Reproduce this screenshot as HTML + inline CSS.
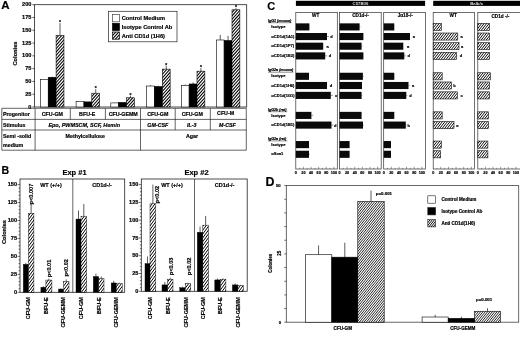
<!DOCTYPE html>
<html lang="en"><head><meta charset="utf-8"><title>Figure</title>
<style>
html,body{margin:0;padding:0;background:#fff}
body{width:520px;height:339px;overflow:hidden}
svg{display:block;font-family:"Liberation Sans",Arial,sans-serif;font-weight:bold}
text{stroke:#000;stroke-width:.18px}
text.w{stroke:none}
</style></head><body>
<svg width="520" height="339" viewBox="0 0 520 339">
<rect width="520" height="339" fill="#fff"/>
<text x="1.2" y="8.6" font-size="10.4" textLength="8.3" lengthAdjust="spacingAndGlyphs">A</text>
<rect x="34.4" y="4.7" width="212.3" height="102.3" fill="none" stroke="#222" stroke-width="0.8"/>
<line x1="32.4" y1="107" x2="34.4" y2="107" stroke="#111" stroke-width="0.7"/>
<text x="31.4" y="108.6" font-size="5.6" text-anchor="end">0</text>
<line x1="32.4" y1="94.21" x2="34.4" y2="94.21" stroke="#111" stroke-width="0.7"/>
<text x="31.4" y="95.81" font-size="5.6" text-anchor="end">25</text>
<line x1="32.4" y1="81.42" x2="34.4" y2="81.42" stroke="#111" stroke-width="0.7"/>
<text x="31.4" y="83.02" font-size="5.6" text-anchor="end">50</text>
<line x1="32.4" y1="68.64" x2="34.4" y2="68.64" stroke="#111" stroke-width="0.7"/>
<text x="31.4" y="70.24" font-size="5.6" text-anchor="end">75</text>
<line x1="32.4" y1="55.85" x2="34.4" y2="55.85" stroke="#111" stroke-width="0.7"/>
<text x="31.4" y="57.45" font-size="5.6" text-anchor="end">100</text>
<line x1="32.4" y1="43.06" x2="34.4" y2="43.06" stroke="#111" stroke-width="0.7"/>
<text x="31.4" y="44.66" font-size="5.6" text-anchor="end">125</text>
<line x1="32.4" y1="30.28" x2="34.4" y2="30.28" stroke="#111" stroke-width="0.7"/>
<text x="31.4" y="31.88" font-size="5.6" text-anchor="end">150</text>
<line x1="32.4" y1="17.49" x2="34.4" y2="17.49" stroke="#111" stroke-width="0.7"/>
<text x="31.4" y="19.09" font-size="5.6" text-anchor="end">175</text>
<line x1="32.4" y1="4.7" x2="34.4" y2="4.7" stroke="#111" stroke-width="0.7"/>
<text x="31.4" y="6.3" font-size="5.6" text-anchor="end">200</text>
<text x="17" y="53.5" font-size="5.7" text-anchor="middle" transform="rotate(-90 17 53.5)">Colonies</text>
<rect x="40.4" y="79.38" width="7.85" height="27.62" fill="#fff" stroke="#000" stroke-width="0.6"/>
<line x1="52.17" y1="77.33" x2="52.17" y2="76.57" stroke="#333" stroke-width="0.8"/>
<rect x="48.25" y="77.33" width="7.85" height="29.67" fill="#000" stroke="#000" stroke-width="0.6"/>
<line x1="60.02" y1="35.39" x2="60.02" y2="23.11" stroke="#333" stroke-width="0.8"/>
<svg x="56.1" y="35.39" width="7.85" height="71.61"><rect width="100%" height="100%" fill="#fff"/><path d="M-64.39,72.61L0.56,-1M-61.39,72.61L3.56,-1M-58.39,72.61L6.56,-1M-55.39,72.61L9.56,-1M-52.39,72.61L12.56,-1M-49.39,72.61L15.56,-1M-46.39,72.61L18.56,-1M-43.39,72.61L21.56,-1M-40.39,72.61L24.56,-1M-37.39,72.61L27.56,-1M-34.39,72.61L30.56,-1M-31.39,72.61L33.56,-1M-28.39,72.61L36.56,-1M-25.39,72.61L39.56,-1M-22.39,72.61L42.56,-1M-19.39,72.61L45.56,-1M-16.39,72.61L48.56,-1M-13.39,72.61L51.56,-1M-10.39,72.61L54.56,-1M-7.39,72.61L57.56,-1M-4.39,72.61L60.56,-1M-1.39,72.61L63.56,-1M1.61,72.61L66.56,-1M4.61,72.61L69.56,-1M7.61,72.61L72.56,-1" stroke="#000" stroke-width="1.05" fill="none"/></svg>
<rect x="56.1" y="35.39" width="7.85" height="71.61" fill="none" stroke="#000" stroke-width="0.6"/>
<text x="60.02" y="24.11" font-size="5" text-anchor="middle">*</text>
<rect x="76.1" y="101.37" width="7.85" height="5.63" fill="#fff" stroke="#000" stroke-width="0.6"/>
<rect x="83.95" y="101.89" width="7.85" height="5.11" fill="#000" stroke="#000" stroke-width="0.6"/>
<line x1="95.72" y1="93.19" x2="95.72" y2="89.1" stroke="#333" stroke-width="0.8"/>
<svg x="91.8" y="93.19" width="7.85" height="13.81"><rect width="100%" height="100%" fill="#fff"/><path d="M-13.09,14.81L0.86,-1M-10.09,14.81L3.86,-1M-7.09,14.81L6.86,-1M-4.09,14.81L9.86,-1M-1.09,14.81L12.86,-1M1.91,14.81L15.86,-1M4.91,14.81L18.86,-1M7.91,14.81L21.86,-1" stroke="#000" stroke-width="1.05" fill="none"/></svg>
<rect x="91.8" y="93.19" width="7.85" height="13.81" fill="none" stroke="#000" stroke-width="0.6"/>
<text x="95.72" y="90.1" font-size="5" text-anchor="middle">*</text>
<rect x="110.8" y="102.91" width="7.85" height="4.09" fill="#fff" stroke="#000" stroke-width="0.6"/>
<rect x="118.65" y="102.4" width="7.85" height="4.6" fill="#000" stroke="#000" stroke-width="0.6"/>
<line x1="130.43" y1="97.79" x2="130.43" y2="95.75" stroke="#333" stroke-width="0.8"/>
<svg x="126.5" y="97.79" width="7.85" height="9.21"><rect width="100%" height="100%" fill="#fff"/><path d="M-8.79,10.21L1.09,-1M-5.79,10.21L4.09,-1M-2.79,10.21L7.09,-1M0.21,10.21L10.09,-1M3.21,10.21L13.09,-1M6.21,10.21L16.09,-1" stroke="#000" stroke-width="1.05" fill="none"/></svg>
<rect x="126.5" y="97.79" width="7.85" height="9.21" fill="none" stroke="#000" stroke-width="0.6"/>
<text x="130.43" y="96.75" font-size="5" text-anchor="middle">*</text>
<line x1="150.52" y1="86.03" x2="150.52" y2="85.26" stroke="#333" stroke-width="0.8"/>
<rect x="146.6" y="86.03" width="7.85" height="20.97" fill="#fff" stroke="#000" stroke-width="0.6"/>
<line x1="158.38" y1="86.54" x2="158.38" y2="85.77" stroke="#333" stroke-width="0.8"/>
<rect x="154.45" y="86.54" width="7.85" height="20.46" fill="#000" stroke="#000" stroke-width="0.6"/>
<line x1="166.22" y1="69.15" x2="166.22" y2="65.57" stroke="#333" stroke-width="0.8"/>
<svg x="162.3" y="69.15" width="7.85" height="37.85"><rect width="100%" height="100%" fill="#fff"/><path d="M-35.59,38.85L-0.43,-1M-32.59,38.85L2.57,-1M-29.59,38.85L5.57,-1M-26.59,38.85L8.57,-1M-23.59,38.85L11.57,-1M-20.59,38.85L14.57,-1M-17.59,38.85L17.57,-1M-14.59,38.85L20.57,-1M-11.59,38.85L23.57,-1M-8.59,38.85L26.57,-1M-5.59,38.85L29.57,-1M-2.59,38.85L32.57,-1M0.41,38.85L35.57,-1M3.41,38.85L38.57,-1M6.41,38.85L41.57,-1" stroke="#000" stroke-width="1.05" fill="none"/></svg>
<rect x="162.3" y="69.15" width="7.85" height="37.85" fill="none" stroke="#000" stroke-width="0.6"/>
<text x="166.22" y="66.57" font-size="5" text-anchor="middle">*</text>
<line x1="185.23" y1="85.52" x2="185.23" y2="84.49" stroke="#333" stroke-width="0.8"/>
<rect x="181.3" y="85.52" width="7.85" height="21.48" fill="#fff" stroke="#000" stroke-width="0.6"/>
<line x1="193.07" y1="83.98" x2="193.07" y2="82.45" stroke="#333" stroke-width="0.8"/>
<rect x="189.15" y="83.98" width="7.85" height="23.02" fill="#000" stroke="#000" stroke-width="0.6"/>
<line x1="200.93" y1="71.19" x2="200.93" y2="68.13" stroke="#333" stroke-width="0.8"/>
<svg x="197" y="71.19" width="7.85" height="35.81"><rect width="100%" height="100%" fill="#fff"/><path d="M-34.29,36.81L-0.94,-1M-31.29,36.81L2.06,-1M-28.29,36.81L5.06,-1M-25.29,36.81L8.06,-1M-22.29,36.81L11.06,-1M-19.29,36.81L14.06,-1M-16.29,36.81L17.06,-1M-13.29,36.81L20.06,-1M-10.29,36.81L23.06,-1M-7.29,36.81L26.06,-1M-4.29,36.81L29.06,-1M-1.29,36.81L32.06,-1M1.71,36.81L35.06,-1M4.71,36.81L38.06,-1M7.71,36.81L41.06,-1" stroke="#000" stroke-width="1.05" fill="none"/></svg>
<rect x="197" y="71.19" width="7.85" height="35.81" fill="none" stroke="#000" stroke-width="0.6"/>
<text x="200.93" y="69.13" font-size="5" text-anchor="middle">*</text>
<line x1="220.23" y1="39.99" x2="220.23" y2="34.88" stroke="#333" stroke-width="0.8"/>
<rect x="216.3" y="39.99" width="7.85" height="67.01" fill="#fff" stroke="#000" stroke-width="0.6"/>
<line x1="228.07" y1="40.5" x2="228.07" y2="35.9" stroke="#333" stroke-width="0.8"/>
<rect x="224.15" y="40.5" width="7.85" height="66.5" fill="#000" stroke="#000" stroke-width="0.6"/>
<line x1="235.93" y1="9.81" x2="235.93" y2="8.28" stroke="#333" stroke-width="0.8"/>
<svg x="232" y="9.81" width="7.85" height="97.19"><rect width="100%" height="100%" fill="#fff"/><path d="M-87.29,98.19L0.22,-1M-84.29,98.19L3.22,-1M-81.29,98.19L6.22,-1M-78.29,98.19L9.22,-1M-75.29,98.19L12.22,-1M-72.29,98.19L15.22,-1M-69.29,98.19L18.22,-1M-66.29,98.19L21.22,-1M-63.29,98.19L24.22,-1M-60.29,98.19L27.22,-1M-57.29,98.19L30.22,-1M-54.29,98.19L33.22,-1M-51.29,98.19L36.22,-1M-48.29,98.19L39.22,-1M-45.29,98.19L42.22,-1M-42.29,98.19L45.22,-1M-39.29,98.19L48.22,-1M-36.29,98.19L51.22,-1M-33.29,98.19L54.22,-1M-30.29,98.19L57.22,-1M-27.29,98.19L60.22,-1M-24.29,98.19L63.22,-1M-21.29,98.19L66.22,-1M-18.29,98.19L69.22,-1M-15.29,98.19L72.22,-1M-12.29,98.19L75.22,-1M-9.29,98.19L78.22,-1M-6.29,98.19L81.22,-1M-3.29,98.19L84.22,-1M-0.29,98.19L87.22,-1M2.71,98.19L90.22,-1M5.71,98.19L93.22,-1M8.71,98.19L96.22,-1" stroke="#000" stroke-width="1.05" fill="none"/></svg>
<rect x="232" y="9.81" width="7.85" height="97.19" fill="none" stroke="#000" stroke-width="0.6"/>
<text x="235.93" y="9.28" font-size="5" text-anchor="middle">*</text>
<rect x="108.4" y="11.3" width="68.6" height="30.5" fill="#fff" stroke="#222" stroke-width="0.7"/>
<rect x="112.5" y="14.6" width="6.9" height="7.2" fill="#fff" stroke="#444" stroke-width="0.7"/>
<text x="121.7" y="20.2" font-size="5.7">Control Medium</text>
<rect x="112.5" y="23.3" width="6.9" height="7.2" fill="#000" stroke="#000" stroke-width="0.7"/>
<text x="121.7" y="28.9" font-size="5.7">Isotype Control Ab</text>
<svg x="112.5" y="32" width="6.9" height="7.2"><rect width="100%" height="100%" fill="#fff"/><path d="M-6.97,8.2L1.15,-1M-3.97,8.2L4.15,-1M-0.97,8.2L7.15,-1M2.03,8.2L10.15,-1M5.03,8.2L13.15,-1" stroke="#000" stroke-width="1.05" fill="none"/></svg>
<rect x="112.5" y="32" width="6.9" height="7.2" fill="none" stroke="#000" stroke-width="0.7"/>
<text x="121.7" y="37.6" font-size="5.7">Anti CD1d (1H6)</text>
<line x1="1.8" y1="108.3" x2="246.3" y2="108.3" stroke="#222" stroke-width="0.7"/>
<line x1="1.8" y1="119.4" x2="246.3" y2="119.4" stroke="#222" stroke-width="0.7"/>
<line x1="1.8" y1="130" x2="246.3" y2="130" stroke="#222" stroke-width="0.7"/>
<line x1="1.8" y1="150.2" x2="246.3" y2="150.2" stroke="#222" stroke-width="0.7"/>
<line x1="1.8" y1="108.3" x2="1.8" y2="150.2" stroke="#222" stroke-width="0.7"/>
<line x1="246.3" y1="108.3" x2="246.3" y2="150.2" stroke="#222" stroke-width="0.7"/>
<line x1="35.1" y1="108.3" x2="35.1" y2="150.2" stroke="#222" stroke-width="0.7"/>
<line x1="140.5" y1="108.3" x2="140.5" y2="150.2" stroke="#222" stroke-width="0.7"/>
<line x1="70.3" y1="108.3" x2="70.3" y2="119.4" stroke="#222" stroke-width="0.7"/>
<line x1="105.4" y1="108.3" x2="105.4" y2="119.4" stroke="#222" stroke-width="0.7"/>
<line x1="175.2" y1="108.3" x2="175.2" y2="130" stroke="#222" stroke-width="0.7"/>
<line x1="210.3" y1="108.3" x2="210.3" y2="130" stroke="#222" stroke-width="0.7"/>
<text x="3" y="115.8" font-size="5.3">Progenitor</text>
<text x="3" y="126.5" font-size="5.3">Stimulus</text>
<text x="3" y="138" font-size="5.3">Semi -solid</text>
<text x="3" y="147.2" font-size="5.3">medium</text>
<text x="52.4" y="115.8" font-size="5.3" text-anchor="middle">CFU-GM</text>
<text x="87.2" y="115.8" font-size="5.3" text-anchor="middle">BFU-E</text>
<text x="123.2" y="115.8" font-size="5.3" text-anchor="middle">CFU-GEMM</text>
<text x="157.8" y="115.8" font-size="5.3" text-anchor="middle">CFU-GM</text>
<text x="192.3" y="115.8" font-size="5.3" text-anchor="middle">CFU-GM</text>
<text x="225.6" y="115.1" font-size="5.3" text-anchor="middle">CFU-M</text>
<text x="84.2" y="126.5" font-size="5.45" text-anchor="middle" font-style="italic">Epo, PWMSCM, SCF, Hemin</text>
<text x="157.8" y="126.5" font-size="5.3" text-anchor="middle" font-style="italic">GM-CSF</text>
<text x="191.8" y="126.5" font-size="5.3" text-anchor="middle" font-style="italic">IL-3</text>
<text x="227.4" y="126.5" font-size="5.3" text-anchor="middle" font-style="italic">M-CSF</text>
<text x="85.3" y="138" font-size="5.3" text-anchor="middle">Methylcellulose</text>
<text x="192" y="138" font-size="5.3" text-anchor="middle">Agar</text>
<text x="1.6" y="173.9" font-size="10.6">B</text>
<rect x="20" y="179" width="104.7" height="113.3" fill="none" stroke="#222" stroke-width="0.8"/>
<line x1="72.8" y1="179" x2="72.8" y2="292.3" stroke="#222" stroke-width="0.7"/>
<line x1="17.6" y1="292.3" x2="20" y2="292.3" stroke="#111" stroke-width="0.6"/>
<line x1="18.6" y1="288.71" x2="20" y2="288.71" stroke="#111" stroke-width="0.6"/>
<line x1="18.6" y1="285.12" x2="20" y2="285.12" stroke="#111" stroke-width="0.6"/>
<line x1="18.6" y1="281.53" x2="20" y2="281.53" stroke="#111" stroke-width="0.6"/>
<line x1="18.6" y1="277.94" x2="20" y2="277.94" stroke="#111" stroke-width="0.6"/>
<line x1="17.6" y1="274.35" x2="20" y2="274.35" stroke="#111" stroke-width="0.6"/>
<line x1="18.6" y1="270.76" x2="20" y2="270.76" stroke="#111" stroke-width="0.6"/>
<line x1="18.6" y1="267.17" x2="20" y2="267.17" stroke="#111" stroke-width="0.6"/>
<line x1="18.6" y1="263.58" x2="20" y2="263.58" stroke="#111" stroke-width="0.6"/>
<line x1="18.6" y1="259.99" x2="20" y2="259.99" stroke="#111" stroke-width="0.6"/>
<line x1="17.6" y1="256.4" x2="20" y2="256.4" stroke="#111" stroke-width="0.6"/>
<line x1="18.6" y1="252.81" x2="20" y2="252.81" stroke="#111" stroke-width="0.6"/>
<line x1="18.6" y1="249.22" x2="20" y2="249.22" stroke="#111" stroke-width="0.6"/>
<line x1="18.6" y1="245.63" x2="20" y2="245.63" stroke="#111" stroke-width="0.6"/>
<line x1="18.6" y1="242.04" x2="20" y2="242.04" stroke="#111" stroke-width="0.6"/>
<line x1="17.6" y1="238.45" x2="20" y2="238.45" stroke="#111" stroke-width="0.6"/>
<line x1="18.6" y1="234.86" x2="20" y2="234.86" stroke="#111" stroke-width="0.6"/>
<line x1="18.6" y1="231.27" x2="20" y2="231.27" stroke="#111" stroke-width="0.6"/>
<line x1="18.6" y1="227.68" x2="20" y2="227.68" stroke="#111" stroke-width="0.6"/>
<line x1="18.6" y1="224.09" x2="20" y2="224.09" stroke="#111" stroke-width="0.6"/>
<line x1="17.6" y1="220.5" x2="20" y2="220.5" stroke="#111" stroke-width="0.6"/>
<line x1="18.6" y1="216.91" x2="20" y2="216.91" stroke="#111" stroke-width="0.6"/>
<line x1="18.6" y1="213.32" x2="20" y2="213.32" stroke="#111" stroke-width="0.6"/>
<line x1="18.6" y1="209.73" x2="20" y2="209.73" stroke="#111" stroke-width="0.6"/>
<line x1="18.6" y1="206.14" x2="20" y2="206.14" stroke="#111" stroke-width="0.6"/>
<line x1="17.6" y1="202.55" x2="20" y2="202.55" stroke="#111" stroke-width="0.6"/>
<line x1="18.6" y1="198.96" x2="20" y2="198.96" stroke="#111" stroke-width="0.6"/>
<line x1="18.6" y1="195.37" x2="20" y2="195.37" stroke="#111" stroke-width="0.6"/>
<line x1="18.6" y1="191.78" x2="20" y2="191.78" stroke="#111" stroke-width="0.6"/>
<line x1="18.6" y1="188.19" x2="20" y2="188.19" stroke="#111" stroke-width="0.6"/>
<line x1="17.6" y1="184.6" x2="20" y2="184.6" stroke="#111" stroke-width="0.6"/>
<text x="17.1" y="294" font-size="5.6" text-anchor="end">0</text>
<text x="17.1" y="276.05" font-size="5.6" text-anchor="end">25</text>
<text x="17.1" y="258.1" font-size="5.6" text-anchor="end">50</text>
<text x="17.1" y="240.15" font-size="5.6" text-anchor="end">75</text>
<text x="17.1" y="222.2" font-size="5.6" text-anchor="end">100</text>
<text x="17.1" y="204.25" font-size="5.6" text-anchor="end">125</text>
<text x="17.1" y="186.3" font-size="5.6" text-anchor="end">150</text>
<text x="74.5" y="174.8" font-size="7.5" text-anchor="middle">Exp #1</text>
<text x="51" y="186.6" font-size="5.5" text-anchor="middle">WT (+/+)</text>
<text x="102" y="186.6" font-size="5.5" text-anchor="middle">CD1d-/-</text>
<line x1="25.85" y1="264.3" x2="25.85" y2="262.86" stroke="#333" stroke-width="0.8"/>
<line x1="31.15" y1="213.32" x2="31.15" y2="203.99" stroke="#333" stroke-width="0.8"/>
<rect x="23.3" y="264.3" width="5.1" height="28" fill="#000" stroke="#000" stroke-width="0.4"/>
<svg x="28.4" y="213.32" width="5.5" height="78.98"><rect width="100%" height="100%" fill="#fff"/><path d="M-59.72,79.98L-0.05,-1M-56.92,79.98L2.75,-1M-54.12,79.98L5.55,-1M-51.32,79.98L8.35,-1M-48.52,79.98L11.15,-1M-45.72,79.98L13.95,-1M-42.92,79.98L16.75,-1M-40.12,79.98L19.55,-1M-37.32,79.98L22.35,-1M-34.52,79.98L25.15,-1M-31.72,79.98L27.95,-1M-28.92,79.98L30.75,-1M-26.12,79.98L33.55,-1M-23.32,79.98L36.35,-1M-20.52,79.98L39.15,-1M-17.72,79.98L41.95,-1M-14.92,79.98L44.75,-1M-12.12,79.98L47.55,-1M-9.32,79.98L50.35,-1M-6.52,79.98L53.15,-1M-3.72,79.98L55.95,-1M-0.92,79.98L58.75,-1M1.88,79.98L61.55,-1M4.68,79.98L64.35,-1" stroke="#000" stroke-width="1" fill="none"/></svg>
<rect x="28.4" y="213.32" width="5.5" height="78.98" fill="none" stroke="#000" stroke-width="0.45"/>
<line x1="43.4" y1="287.27" x2="43.4" y2="286.2" stroke="#333" stroke-width="0.8"/>
<line x1="48.9" y1="280.09" x2="48.9" y2="278.66" stroke="#333" stroke-width="0.8"/>
<rect x="40.9" y="287.27" width="5" height="5.03" fill="#000" stroke="#000" stroke-width="0.4"/>
<svg x="45.9" y="280.09" width="6" height="12.21"><rect width="100%" height="100%" fill="#fff"/><path d="M-10.02,13.21L0.45,-1M-7.22,13.21L3.25,-1M-4.42,13.21L6.05,-1M-1.62,13.21L8.85,-1M1.18,13.21L11.65,-1M3.98,13.21L14.45,-1M6.78,13.21L17.25,-1" stroke="#000" stroke-width="1" fill="none"/></svg>
<rect x="45.9" y="280.09" width="6" height="12.21" fill="none" stroke="#000" stroke-width="0.45"/>
<line x1="61" y1="289.07" x2="61" y2="288.35" stroke="#333" stroke-width="0.8"/>
<line x1="66.25" y1="281.53" x2="66.25" y2="279.38" stroke="#333" stroke-width="0.8"/>
<rect x="58.5" y="289.07" width="5" height="3.23" fill="#000" stroke="#000" stroke-width="0.4"/>
<svg x="63.5" y="281.53" width="5.5" height="10.77"><rect width="100%" height="100%" fill="#fff"/><path d="M-8.02,11.77L1.39,-1M-5.22,11.77L4.19,-1M-2.42,11.77L6.99,-1M0.38,11.77L9.79,-1M3.18,11.77L12.59,-1M5.98,11.77L15.39,-1" stroke="#000" stroke-width="1" fill="none"/></svg>
<rect x="63.5" y="281.53" width="5.5" height="10.77" fill="none" stroke="#000" stroke-width="0.45"/>
<line x1="78.5" y1="219.06" x2="78.5" y2="210.45" stroke="#333" stroke-width="0.8"/>
<line x1="83.8" y1="216.19" x2="83.8" y2="203.99" stroke="#333" stroke-width="0.8"/>
<rect x="76" y="219.06" width="5" height="73.24" fill="#000" stroke="#000" stroke-width="0.4"/>
<svg x="81" y="216.19" width="5.6" height="76.11"><rect width="100%" height="100%" fill="#fff"/><path d="M-56.32,77.11L1.24,-1M-53.52,77.11L4.04,-1M-50.72,77.11L6.84,-1M-47.92,77.11L9.64,-1M-45.12,77.11L12.44,-1M-42.32,77.11L15.24,-1M-39.52,77.11L18.04,-1M-36.72,77.11L20.84,-1M-33.92,77.11L23.64,-1M-31.12,77.11L26.44,-1M-28.32,77.11L29.24,-1M-25.52,77.11L32.04,-1M-22.72,77.11L34.84,-1M-19.92,77.11L37.64,-1M-17.12,77.11L40.44,-1M-14.32,77.11L43.24,-1M-11.52,77.11L46.04,-1M-8.72,77.11L48.84,-1M-5.92,77.11L51.64,-1M-3.12,77.11L54.44,-1M-0.32,77.11L57.24,-1M2.48,77.11L60.04,-1M5.28,77.11L62.84,-1" stroke="#000" stroke-width="1" fill="none"/></svg>
<rect x="81" y="216.19" width="5.6" height="76.11" fill="none" stroke="#000" stroke-width="0.45"/>
<line x1="95.95" y1="276.5" x2="95.95" y2="273.63" stroke="#333" stroke-width="0.8"/>
<line x1="101.3" y1="278.66" x2="101.3" y2="276.5" stroke="#333" stroke-width="0.8"/>
<rect x="93.3" y="276.5" width="5.3" height="15.8" fill="#000" stroke="#000" stroke-width="0.4"/>
<svg x="98.6" y="278.66" width="5.4" height="13.64"><rect width="100%" height="100%" fill="#fff"/><path d="M-12.32,14.64L-0.79,-1M-9.52,14.64L2.01,-1M-6.72,14.64L4.81,-1M-3.92,14.64L7.61,-1M-1.12,14.64L10.41,-1M1.68,14.64L13.21,-1M4.48,14.64L16.01,-1" stroke="#000" stroke-width="1" fill="none"/></svg>
<rect x="98.6" y="278.66" width="5.4" height="13.64" fill="none" stroke="#000" stroke-width="0.45"/>
<line x1="113.7" y1="282.97" x2="113.7" y2="280.81" stroke="#333" stroke-width="0.8"/>
<line x1="119.2" y1="283.68" x2="119.2" y2="282.61" stroke="#333" stroke-width="0.8"/>
<rect x="111.2" y="282.97" width="5" height="9.33" fill="#000" stroke="#000" stroke-width="0.4"/>
<svg x="116.2" y="283.68" width="6" height="8.62"><rect width="100%" height="100%" fill="#fff"/><path d="M-7.52,9.62L0.31,-1M-4.72,9.62L3.11,-1M-1.92,9.62L5.91,-1M0.88,9.62L8.71,-1M3.68,9.62L11.51,-1M6.48,9.62L14.31,-1" stroke="#000" stroke-width="1" fill="none"/></svg>
<rect x="116.2" y="283.68" width="6" height="8.62" fill="none" stroke="#000" stroke-width="0.45"/>
<text x="30.4" y="297.2" font-size="5.5" text-anchor="end" transform="rotate(-90 30.4 297.2)">CFU-GM</text>
<text x="48" y="297.2" font-size="5.5" text-anchor="end" transform="rotate(-90 48 297.2)">BFU-E</text>
<text x="65.5" y="297.2" font-size="5.5" text-anchor="end" transform="rotate(-90 65.5 297.2)">CFU-GEMM</text>
<text x="82.8" y="297.2" font-size="5.5" text-anchor="end" transform="rotate(-90 82.8 297.2)">CFU-GM</text>
<text x="100.6" y="297.2" font-size="5.5" text-anchor="end" transform="rotate(-90 100.6 297.2)">BFU-E</text>
<text x="118.2" y="297.2" font-size="5.5" text-anchor="end" transform="rotate(-90 118.2 297.2)">CFU-GEMM</text>
<text x="33.4" y="204.4" font-size="5.6" transform="rotate(-90 33.4 204.4)">p&lt;0.007</text>
<text x="51" y="277.3" font-size="5.6" transform="rotate(-90 51 277.3)">p&lt;0.01</text>
<text x="68.5" y="276.6" font-size="5.6" transform="rotate(-90 68.5 276.6)">p&lt;0.02</text>
<rect x="141.3" y="179" width="105.9" height="112.3" fill="none" stroke="#222" stroke-width="0.8"/>
<line x1="194.5" y1="179" x2="194.5" y2="291.3" stroke="#222" stroke-width="0.7"/>
<line x1="138.9" y1="291.3" x2="141.3" y2="291.3" stroke="#111" stroke-width="0.6"/>
<line x1="139.9" y1="287.74" x2="141.3" y2="287.74" stroke="#111" stroke-width="0.6"/>
<line x1="139.9" y1="284.19" x2="141.3" y2="284.19" stroke="#111" stroke-width="0.6"/>
<line x1="139.9" y1="280.63" x2="141.3" y2="280.63" stroke="#111" stroke-width="0.6"/>
<line x1="139.9" y1="277.07" x2="141.3" y2="277.07" stroke="#111" stroke-width="0.6"/>
<line x1="138.9" y1="273.52" x2="141.3" y2="273.52" stroke="#111" stroke-width="0.6"/>
<line x1="139.9" y1="269.96" x2="141.3" y2="269.96" stroke="#111" stroke-width="0.6"/>
<line x1="139.9" y1="266.4" x2="141.3" y2="266.4" stroke="#111" stroke-width="0.6"/>
<line x1="139.9" y1="262.85" x2="141.3" y2="262.85" stroke="#111" stroke-width="0.6"/>
<line x1="139.9" y1="259.29" x2="141.3" y2="259.29" stroke="#111" stroke-width="0.6"/>
<line x1="138.9" y1="255.73" x2="141.3" y2="255.73" stroke="#111" stroke-width="0.6"/>
<line x1="139.9" y1="252.18" x2="141.3" y2="252.18" stroke="#111" stroke-width="0.6"/>
<line x1="139.9" y1="248.62" x2="141.3" y2="248.62" stroke="#111" stroke-width="0.6"/>
<line x1="139.9" y1="245.06" x2="141.3" y2="245.06" stroke="#111" stroke-width="0.6"/>
<line x1="139.9" y1="241.51" x2="141.3" y2="241.51" stroke="#111" stroke-width="0.6"/>
<line x1="138.9" y1="237.95" x2="141.3" y2="237.95" stroke="#111" stroke-width="0.6"/>
<line x1="139.9" y1="234.39" x2="141.3" y2="234.39" stroke="#111" stroke-width="0.6"/>
<line x1="139.9" y1="230.84" x2="141.3" y2="230.84" stroke="#111" stroke-width="0.6"/>
<line x1="139.9" y1="227.28" x2="141.3" y2="227.28" stroke="#111" stroke-width="0.6"/>
<line x1="139.9" y1="223.72" x2="141.3" y2="223.72" stroke="#111" stroke-width="0.6"/>
<line x1="138.9" y1="220.17" x2="141.3" y2="220.17" stroke="#111" stroke-width="0.6"/>
<line x1="139.9" y1="216.61" x2="141.3" y2="216.61" stroke="#111" stroke-width="0.6"/>
<line x1="139.9" y1="213.05" x2="141.3" y2="213.05" stroke="#111" stroke-width="0.6"/>
<line x1="139.9" y1="209.5" x2="141.3" y2="209.5" stroke="#111" stroke-width="0.6"/>
<line x1="139.9" y1="205.94" x2="141.3" y2="205.94" stroke="#111" stroke-width="0.6"/>
<line x1="138.9" y1="202.38" x2="141.3" y2="202.38" stroke="#111" stroke-width="0.6"/>
<line x1="139.9" y1="198.83" x2="141.3" y2="198.83" stroke="#111" stroke-width="0.6"/>
<line x1="139.9" y1="195.27" x2="141.3" y2="195.27" stroke="#111" stroke-width="0.6"/>
<line x1="139.9" y1="191.71" x2="141.3" y2="191.71" stroke="#111" stroke-width="0.6"/>
<line x1="139.9" y1="188.16" x2="141.3" y2="188.16" stroke="#111" stroke-width="0.6"/>
<line x1="138.9" y1="184.6" x2="141.3" y2="184.6" stroke="#111" stroke-width="0.6"/>
<text x="138.4" y="293" font-size="5.6" text-anchor="end">0</text>
<text x="138.4" y="275.22" font-size="5.6" text-anchor="end">25</text>
<text x="138.4" y="257.43" font-size="5.6" text-anchor="end">50</text>
<text x="138.4" y="239.65" font-size="5.6" text-anchor="end">75</text>
<text x="138.4" y="221.87" font-size="5.6" text-anchor="end">100</text>
<text x="138.4" y="204.08" font-size="5.6" text-anchor="end">125</text>
<text x="138.4" y="186.3" font-size="5.6" text-anchor="end">150</text>
<text x="196.5" y="174.8" font-size="7.5" text-anchor="middle">Exp #2</text>
<text x="172" y="186.6" font-size="5.5" text-anchor="middle">WT (+/+)</text>
<text x="224.6" y="186.6" font-size="5.5" text-anchor="middle">CD1d-/-</text>
<line x1="147.5" y1="263.56" x2="147.5" y2="256.44" stroke="#333" stroke-width="0.8"/>
<line x1="152.9" y1="203.81" x2="152.9" y2="184.6" stroke="#333" stroke-width="0.8"/>
<rect x="145" y="263.56" width="5" height="27.74" fill="#000" stroke="#000" stroke-width="0.4"/>
<svg x="150" y="203.81" width="5.8" height="87.49"><rect width="100%" height="100%" fill="#fff"/><path d="M-65.78,88.49L0.16,-1M-62.98,88.49L2.96,-1M-60.18,88.49L5.76,-1M-57.38,88.49L8.56,-1M-54.58,88.49L11.36,-1M-51.78,88.49L14.16,-1M-48.98,88.49L16.96,-1M-46.18,88.49L19.76,-1M-43.38,88.49L22.56,-1M-40.58,88.49L25.36,-1M-37.78,88.49L28.16,-1M-34.98,88.49L30.96,-1M-32.18,88.49L33.76,-1M-29.38,88.49L36.56,-1M-26.58,88.49L39.36,-1M-23.78,88.49L42.16,-1M-20.98,88.49L44.96,-1M-18.18,88.49L47.76,-1M-15.38,88.49L50.56,-1M-12.58,88.49L53.36,-1M-9.78,88.49L56.16,-1M-6.98,88.49L58.96,-1M-4.18,88.49L61.76,-1M-1.38,88.49L64.56,-1M1.42,88.49L67.36,-1M4.22,88.49L70.16,-1" stroke="#000" stroke-width="1" fill="none"/></svg>
<rect x="150" y="203.81" width="5.8" height="87.49" fill="none" stroke="#000" stroke-width="0.45"/>
<line x1="164.8" y1="284.9" x2="164.8" y2="282.05" stroke="#333" stroke-width="0.8"/>
<line x1="170.3" y1="279.21" x2="170.3" y2="277.78" stroke="#333" stroke-width="0.8"/>
<rect x="162" y="284.9" width="5.6" height="6.4" fill="#000" stroke="#000" stroke-width="0.4"/>
<svg x="167.6" y="279.21" width="5.4" height="12.09"><rect width="100%" height="100%" fill="#fff"/><path d="M-10.58,13.09L-0.19,-1M-7.78,13.09L2.61,-1M-4.98,13.09L5.41,-1M-2.18,13.09L8.21,-1M0.62,13.09L11.01,-1M3.42,13.09L13.81,-1M6.22,13.09L16.61,-1" stroke="#000" stroke-width="1" fill="none"/></svg>
<rect x="167.6" y="279.21" width="5.4" height="12.09" fill="none" stroke="#000" stroke-width="0.45"/>
<line x1="182.45" y1="287.74" x2="182.45" y2="286.68" stroke="#333" stroke-width="0.8"/>
<line x1="187.95" y1="283.48" x2="187.95" y2="282.76" stroke="#333" stroke-width="0.8"/>
<rect x="179.7" y="287.74" width="5.5" height="3.56" fill="#000" stroke="#000" stroke-width="0.4"/>
<svg x="185.2" y="283.48" width="5.5" height="7.82"><rect width="100%" height="100%" fill="#fff"/><path d="M-5.78,8.82L1.46,-1M-2.98,8.82L4.26,-1M-0.18,8.82L7.06,-1M2.62,8.82L9.86,-1M5.42,8.82L12.66,-1" stroke="#000" stroke-width="1" fill="none"/></svg>
<rect x="185.2" y="283.48" width="5.5" height="7.82" fill="none" stroke="#000" stroke-width="0.45"/>
<line x1="200.05" y1="232.26" x2="200.05" y2="226.57" stroke="#333" stroke-width="0.8"/>
<line x1="205.65" y1="225.15" x2="205.65" y2="215.9" stroke="#333" stroke-width="0.8"/>
<rect x="197.3" y="232.26" width="5.5" height="59.04" fill="#000" stroke="#000" stroke-width="0.4"/>
<svg x="202.8" y="225.15" width="5.7" height="66.15"><rect width="100%" height="100%" fill="#fff"/><path d="M-48.58,67.15L1.64,-1M-45.78,67.15L4.44,-1M-42.98,67.15L7.24,-1M-40.18,67.15L10.04,-1M-37.38,67.15L12.84,-1M-34.58,67.15L15.64,-1M-31.78,67.15L18.44,-1M-28.98,67.15L21.24,-1M-26.18,67.15L24.04,-1M-23.38,67.15L26.84,-1M-20.58,67.15L29.64,-1M-17.78,67.15L32.44,-1M-14.98,67.15L35.24,-1M-12.18,67.15L38.04,-1M-9.38,67.15L40.84,-1M-6.58,67.15L43.64,-1M-3.78,67.15L46.44,-1M-0.98,67.15L49.24,-1M1.82,67.15L52.04,-1M4.62,67.15L54.84,-1" stroke="#000" stroke-width="1" fill="none"/></svg>
<rect x="202.8" y="225.15" width="5.7" height="66.15" fill="none" stroke="#000" stroke-width="0.45"/>
<line x1="217.55" y1="279.92" x2="217.55" y2="278.5" stroke="#333" stroke-width="0.8"/>
<line x1="223.1" y1="279.21" x2="223.1" y2="278.5" stroke="#333" stroke-width="0.8"/>
<rect x="214.8" y="279.92" width="5.5" height="11.38" fill="#000" stroke="#000" stroke-width="0.4"/>
<svg x="220.3" y="279.21" width="5.6" height="12.09"><rect width="100%" height="100%" fill="#fff"/><path d="M-10.08,13.09L0.31,-1M-7.28,13.09L3.11,-1M-4.48,13.09L5.91,-1M-1.68,13.09L8.71,-1M1.12,13.09L11.51,-1M3.92,13.09L14.31,-1" stroke="#000" stroke-width="1" fill="none"/></svg>
<rect x="220.3" y="279.21" width="5.6" height="12.09" fill="none" stroke="#000" stroke-width="0.45"/>
<line x1="235.15" y1="284.9" x2="235.15" y2="283.48" stroke="#333" stroke-width="0.8"/>
<line x1="240.65" y1="285.61" x2="240.65" y2="284.9" stroke="#333" stroke-width="0.8"/>
<rect x="232.4" y="284.9" width="5.5" height="6.4" fill="#000" stroke="#000" stroke-width="0.4"/>
<svg x="237.9" y="285.61" width="5.5" height="5.69"><rect width="100%" height="100%" fill="#fff"/><path d="M-5.28,6.69L0.39,-1M-2.48,6.69L3.19,-1M0.32,6.69L5.99,-1M3.12,6.69L8.79,-1M5.92,6.69L11.59,-1" stroke="#000" stroke-width="1" fill="none"/></svg>
<rect x="237.9" y="285.61" width="5.5" height="5.69" fill="none" stroke="#000" stroke-width="0.45"/>
<text x="152" y="297.2" font-size="5.5" text-anchor="end" transform="rotate(-90 152 297.2)">CFU-GM</text>
<text x="169.6" y="297.2" font-size="5.5" text-anchor="end" transform="rotate(-90 169.6 297.2)">BFU-E</text>
<text x="187.7" y="297.2" font-size="5.5" text-anchor="end" transform="rotate(-90 187.7 297.2)">CFU-GEMM</text>
<text x="204.8" y="297.2" font-size="5.5" text-anchor="end" transform="rotate(-90 204.8 297.2)">CFU-GM</text>
<text x="222.3" y="297.2" font-size="5.5" text-anchor="end" transform="rotate(-90 222.3 297.2)">BFU-E</text>
<text x="239.9" y="297.2" font-size="5.5" text-anchor="end" transform="rotate(-90 239.9 297.2)">CFU-GEMM</text>
<text x="159" y="203.4" font-size="5.6" transform="rotate(-90 159 203.4)">p&lt;0.02</text>
<text x="173" y="275.2" font-size="5.6" transform="rotate(-90 173 275.2)">p&lt;0.03</text>
<text x="191" y="275.2" font-size="5.6" transform="rotate(-90 191 275.2)">p&lt;0.02</text>
<text x="6" y="232" font-size="5.7" text-anchor="middle" transform="rotate(-90 6 232)">Colonies</text>
<text x="267.2" y="9.7" font-size="11">C</text>
<rect x="295.9" y="0.8" width="129.2" height="5.1" fill="#000"/>
<rect x="433.2" y="0.8" width="86.8" height="5.1" fill="#000"/>
<text x="360.5" y="4.9" font-size="4.3" text-anchor="middle" fill="#ddd" class="w">C57Bl/6</text>
<text x="476.6" y="4.9" font-size="4.3" text-anchor="middle" fill="#ddd" class="w">Balb/c</text>
<rect x="295.8" y="12.6" width="41.5" height="156.4" fill="#fff" stroke="#333" stroke-width="0.7"/>
<text x="315.7" y="17.3" font-size="4.7" text-anchor="middle">WT</text>
<text x="295.8" y="173.7" font-size="3.7" text-anchor="middle">0</text>
<line x1="299.61" y1="167.8" x2="299.61" y2="169" stroke="#333" stroke-width="0.5"/>
<line x1="303.42" y1="166.8" x2="303.42" y2="169" stroke="#333" stroke-width="0.5"/>
<text x="303.42" y="173.7" font-size="3.7" text-anchor="middle">20</text>
<line x1="307.23" y1="167.8" x2="307.23" y2="169" stroke="#333" stroke-width="0.5"/>
<line x1="311.04" y1="166.8" x2="311.04" y2="169" stroke="#333" stroke-width="0.5"/>
<text x="311.04" y="173.7" font-size="3.7" text-anchor="middle">40</text>
<line x1="314.85" y1="167.8" x2="314.85" y2="169" stroke="#333" stroke-width="0.5"/>
<line x1="318.66" y1="166.8" x2="318.66" y2="169" stroke="#333" stroke-width="0.5"/>
<text x="318.66" y="173.7" font-size="3.7" text-anchor="middle">60</text>
<line x1="322.47" y1="167.8" x2="322.47" y2="169" stroke="#333" stroke-width="0.5"/>
<line x1="326.28" y1="166.8" x2="326.28" y2="169" stroke="#333" stroke-width="0.5"/>
<text x="326.28" y="173.7" font-size="3.7" text-anchor="middle">80</text>
<line x1="330.09" y1="167.8" x2="330.09" y2="169" stroke="#333" stroke-width="0.5"/>
<line x1="333.9" y1="166.8" x2="333.9" y2="169" stroke="#333" stroke-width="0.5"/>
<text x="333.9" y="173.7" font-size="3.7" text-anchor="middle">100</text>
<rect x="295.8" y="23.35" width="13.6" height="7.1" fill="#0a0a0a"/>
<line x1="327" y1="36.55" x2="329" y2="36.55" stroke="#333" stroke-width="0.5"/>
<rect x="295.8" y="33" width="31.2" height="7.1" fill="#0a0a0a"/>
<text x="331.5" y="37.95" font-size="4" text-anchor="middle">d</text>
<rect x="295.8" y="42.65" width="27.4" height="7.1" fill="#0a0a0a"/>
<text x="327.5" y="47.6" font-size="4" text-anchor="middle">a</text>
<line x1="325.2" y1="55.9" x2="327.2" y2="55.9" stroke="#333" stroke-width="0.5"/>
<rect x="295.8" y="52.35" width="29.4" height="7.1" fill="#0a0a0a"/>
<text x="330" y="57.3" font-size="4" text-anchor="middle">d</text>
<rect x="295.8" y="72.75" width="13.2" height="7.1" fill="#0a0a0a"/>
<rect x="295.8" y="81.95" width="31.2" height="7.1" fill="#0a0a0a"/>
<text x="331" y="86.9" font-size="4" text-anchor="middle">d</text>
<line x1="330.8" y1="95.4" x2="332.8" y2="95.4" stroke="#333" stroke-width="0.5"/>
<rect x="295.8" y="91.85" width="35" height="7.1" fill="#0a0a0a"/>
<text x="336" y="96.8" font-size="4" text-anchor="middle">c</text>
<line x1="311.4" y1="115.4" x2="313.2" y2="115.4" stroke="#333" stroke-width="0.5"/>
<rect x="295.8" y="111.85" width="15.6" height="7.1" fill="#0a0a0a"/>
<line x1="331.5" y1="125.1" x2="333.5" y2="125.1" stroke="#333" stroke-width="0.5"/>
<rect x="295.8" y="121.55" width="35.7" height="7.1" fill="#0a0a0a"/>
<text x="335.3" y="126.5" font-size="4" text-anchor="middle">d</text>
<rect x="295.8" y="141.05" width="13.2" height="7.1" fill="#0a0a0a"/>
<line x1="309" y1="154.3" x2="309.8" y2="154.3" stroke="#333" stroke-width="0.5"/>
<rect x="295.8" y="150.75" width="13.2" height="7.1" fill="#0a0a0a"/>
<rect x="339.5" y="12.6" width="41.7" height="156.4" fill="#fff" stroke="#333" stroke-width="0.7"/>
<text x="360.5" y="17" font-size="4.7" text-anchor="middle">CD1d-/-</text>
<text x="339.5" y="173.7" font-size="3.7" text-anchor="middle">0</text>
<line x1="343.31" y1="167.8" x2="343.31" y2="169" stroke="#333" stroke-width="0.5"/>
<line x1="347.12" y1="166.8" x2="347.12" y2="169" stroke="#333" stroke-width="0.5"/>
<text x="347.12" y="173.7" font-size="3.7" text-anchor="middle">20</text>
<line x1="350.93" y1="167.8" x2="350.93" y2="169" stroke="#333" stroke-width="0.5"/>
<line x1="354.74" y1="166.8" x2="354.74" y2="169" stroke="#333" stroke-width="0.5"/>
<text x="354.74" y="173.7" font-size="3.7" text-anchor="middle">40</text>
<line x1="358.55" y1="167.8" x2="358.55" y2="169" stroke="#333" stroke-width="0.5"/>
<line x1="362.36" y1="166.8" x2="362.36" y2="169" stroke="#333" stroke-width="0.5"/>
<text x="362.36" y="173.7" font-size="3.7" text-anchor="middle">60</text>
<line x1="366.17" y1="167.8" x2="366.17" y2="169" stroke="#333" stroke-width="0.5"/>
<line x1="369.98" y1="166.8" x2="369.98" y2="169" stroke="#333" stroke-width="0.5"/>
<text x="369.98" y="173.7" font-size="3.7" text-anchor="middle">80</text>
<line x1="373.79" y1="167.8" x2="373.79" y2="169" stroke="#333" stroke-width="0.5"/>
<line x1="377.6" y1="166.8" x2="377.6" y2="169" stroke="#333" stroke-width="0.5"/>
<text x="377.6" y="173.7" font-size="3.7" text-anchor="middle">100</text>
<line x1="359.6" y1="26.9" x2="360.4" y2="26.9" stroke="#333" stroke-width="0.5"/>
<rect x="339.5" y="23.35" width="20.1" height="7.1" fill="#0a0a0a"/>
<rect x="339.5" y="33" width="23.9" height="7.1" fill="#0a0a0a"/>
<line x1="361.6" y1="46.2" x2="362.4" y2="46.2" stroke="#333" stroke-width="0.5"/>
<rect x="339.5" y="42.65" width="22.1" height="7.1" fill="#0a0a0a"/>
<rect x="339.5" y="52.35" width="23.9" height="7.1" fill="#0a0a0a"/>
<line x1="362.9" y1="76.3" x2="363.7" y2="76.3" stroke="#333" stroke-width="0.5"/>
<rect x="339.5" y="72.75" width="23.4" height="7.1" fill="#0a0a0a"/>
<rect x="339.5" y="81.95" width="22.5" height="7.1" fill="#0a0a0a"/>
<line x1="361.6" y1="95.4" x2="362.4" y2="95.4" stroke="#333" stroke-width="0.5"/>
<rect x="339.5" y="91.85" width="22.1" height="7.1" fill="#0a0a0a"/>
<rect x="339.5" y="111.85" width="22.1" height="7.1" fill="#0a0a0a"/>
<line x1="363" y1="125.1" x2="363.8" y2="125.1" stroke="#333" stroke-width="0.5"/>
<rect x="339.5" y="121.55" width="23.5" height="7.1" fill="#0a0a0a"/>
<rect x="339.5" y="141.05" width="10.1" height="7.1" fill="#0a0a0a"/>
<rect x="339.5" y="150.75" width="10.1" height="7.1" fill="#0a0a0a"/>
<rect x="383.7" y="12.6" width="41.9" height="156.4" fill="#fff" stroke="#333" stroke-width="0.7"/>
<text x="405.2" y="17" font-size="4.7" text-anchor="middle">J&#945;18-/-</text>
<text x="383.7" y="173.7" font-size="3.7" text-anchor="middle">0</text>
<line x1="387.51" y1="167.8" x2="387.51" y2="169" stroke="#333" stroke-width="0.5"/>
<line x1="391.32" y1="166.8" x2="391.32" y2="169" stroke="#333" stroke-width="0.5"/>
<text x="391.32" y="173.7" font-size="3.7" text-anchor="middle">20</text>
<line x1="395.13" y1="167.8" x2="395.13" y2="169" stroke="#333" stroke-width="0.5"/>
<line x1="398.94" y1="166.8" x2="398.94" y2="169" stroke="#333" stroke-width="0.5"/>
<text x="398.94" y="173.7" font-size="3.7" text-anchor="middle">40</text>
<line x1="402.75" y1="167.8" x2="402.75" y2="169" stroke="#333" stroke-width="0.5"/>
<line x1="406.56" y1="166.8" x2="406.56" y2="169" stroke="#333" stroke-width="0.5"/>
<text x="406.56" y="173.7" font-size="3.7" text-anchor="middle">60</text>
<line x1="410.37" y1="167.8" x2="410.37" y2="169" stroke="#333" stroke-width="0.5"/>
<line x1="414.18" y1="166.8" x2="414.18" y2="169" stroke="#333" stroke-width="0.5"/>
<text x="414.18" y="173.7" font-size="3.7" text-anchor="middle">80</text>
<line x1="417.99" y1="167.8" x2="417.99" y2="169" stroke="#333" stroke-width="0.5"/>
<line x1="421.8" y1="166.8" x2="421.8" y2="169" stroke="#333" stroke-width="0.5"/>
<text x="421.8" y="173.7" font-size="3.7" text-anchor="middle">100</text>
<rect x="383.7" y="23.35" width="10.6" height="7.1" fill="#0a0a0a"/>
<rect x="383.7" y="33" width="26.3" height="7.1" fill="#0a0a0a"/>
<text x="413.8" y="37.95" font-size="4" text-anchor="middle">a</text>
<rect x="383.7" y="42.65" width="19.6" height="7.1" fill="#0a0a0a"/>
<text x="408" y="47.6" font-size="4" text-anchor="middle">a</text>
<line x1="404.3" y1="55.9" x2="405.8" y2="55.9" stroke="#333" stroke-width="0.5"/>
<rect x="383.7" y="52.35" width="20.6" height="7.1" fill="#0a0a0a"/>
<text x="408.8" y="57.3" font-size="4" text-anchor="middle">d</text>
<rect x="383.7" y="72.75" width="10.6" height="7.1" fill="#0a0a0a"/>
<line x1="408.5" y1="85.5" x2="409.5" y2="85.5" stroke="#333" stroke-width="0.5"/>
<rect x="383.7" y="81.95" width="24.8" height="7.1" fill="#0a0a0a"/>
<text x="413" y="86.9" font-size="4" text-anchor="middle">a</text>
<line x1="406.3" y1="95.4" x2="407.3" y2="95.4" stroke="#333" stroke-width="0.5"/>
<rect x="383.7" y="91.85" width="22.6" height="7.1" fill="#0a0a0a"/>
<text x="410.6" y="96.8" font-size="4" text-anchor="middle">d</text>
<rect x="383.7" y="111.85" width="10.6" height="7.1" fill="#0a0a0a"/>
<line x1="405.8" y1="125.1" x2="406.6" y2="125.1" stroke="#333" stroke-width="0.5"/>
<rect x="383.7" y="121.55" width="22.1" height="7.1" fill="#0a0a0a"/>
<text x="408.8" y="126.5" font-size="4" text-anchor="middle">b</text>
<rect x="383.7" y="141.05" width="7.3" height="7.1" fill="#0a0a0a"/>
<rect x="383.7" y="150.75" width="7.3" height="7.1" fill="#0a0a0a"/>
<rect x="433.2" y="12.6" width="41.4" height="156.4" fill="#fff" stroke="#333" stroke-width="0.7"/>
<text x="453.2" y="17.3" font-size="4.7" text-anchor="middle">WT</text>
<text x="433.2" y="173.7" font-size="3.7" text-anchor="middle">0</text>
<line x1="437.01" y1="167.8" x2="437.01" y2="169" stroke="#333" stroke-width="0.5"/>
<line x1="440.82" y1="166.8" x2="440.82" y2="169" stroke="#333" stroke-width="0.5"/>
<text x="440.82" y="173.7" font-size="3.7" text-anchor="middle">20</text>
<line x1="444.63" y1="167.8" x2="444.63" y2="169" stroke="#333" stroke-width="0.5"/>
<line x1="448.44" y1="166.8" x2="448.44" y2="169" stroke="#333" stroke-width="0.5"/>
<text x="448.44" y="173.7" font-size="3.7" text-anchor="middle">40</text>
<line x1="452.25" y1="167.8" x2="452.25" y2="169" stroke="#333" stroke-width="0.5"/>
<line x1="456.06" y1="166.8" x2="456.06" y2="169" stroke="#333" stroke-width="0.5"/>
<text x="456.06" y="173.7" font-size="3.7" text-anchor="middle">60</text>
<line x1="459.87" y1="167.8" x2="459.87" y2="169" stroke="#333" stroke-width="0.5"/>
<line x1="463.68" y1="166.8" x2="463.68" y2="169" stroke="#333" stroke-width="0.5"/>
<text x="463.68" y="173.7" font-size="3.7" text-anchor="middle">80</text>
<line x1="467.49" y1="167.8" x2="467.49" y2="169" stroke="#333" stroke-width="0.5"/>
<line x1="471.3" y1="166.8" x2="471.3" y2="169" stroke="#333" stroke-width="0.5"/>
<text x="471.3" y="173.7" font-size="3.7" text-anchor="middle">100</text>
<svg x="433.2" y="23.35" width="8.2" height="7.1"><rect width="100%" height="100%" fill="#fff"/><path d="M-7.77,8.1L-0.66,-1M-5.27,8.1L1.84,-1M-2.77,8.1L4.34,-1M-0.27,8.1L6.84,-1M2.23,8.1L9.34,-1M4.73,8.1L11.84,-1M7.23,8.1L14.34,-1" stroke="#000" stroke-width="0.95" fill="none"/></svg>
<rect x="433.2" y="23.35" width="8.2" height="7.1" fill="none" stroke="#111" stroke-width="0.6"/>
<svg x="433.2" y="33" width="24.6" height="7.1"><rect width="100%" height="100%" fill="#fff"/><path d="M-7.81,8.1L-0.7,-1M-5.31,8.1L1.8,-1M-2.81,8.1L4.3,-1M-0.31,8.1L6.8,-1M2.19,8.1L9.3,-1M4.69,8.1L11.8,-1M7.19,8.1L14.3,-1M9.69,8.1L16.8,-1M12.19,8.1L19.3,-1M14.69,8.1L21.8,-1M17.19,8.1L24.3,-1M19.69,8.1L26.8,-1M22.19,8.1L29.3,-1M24.69,8.1L31.8,-1" stroke="#000" stroke-width="0.95" fill="none"/></svg>
<rect x="433.2" y="33" width="24.6" height="7.1" fill="none" stroke="#111" stroke-width="0.6"/>
<text x="461.5" y="37.95" font-size="4" text-anchor="middle">a</text>
<svg x="433.2" y="42.65" width="25.8" height="7.1"><rect width="100%" height="100%" fill="#fff"/><path d="M-7.85,8.1L-0.74,-1M-5.35,8.1L1.76,-1M-2.85,8.1L4.26,-1M-0.35,8.1L6.76,-1M2.15,8.1L9.26,-1M4.65,8.1L11.76,-1M7.15,8.1L14.26,-1M9.65,8.1L16.76,-1M12.15,8.1L19.26,-1M14.65,8.1L21.76,-1M17.15,8.1L24.26,-1M19.65,8.1L26.76,-1M22.15,8.1L29.26,-1M24.65,8.1L31.76,-1" stroke="#000" stroke-width="0.95" fill="none"/></svg>
<rect x="433.2" y="42.65" width="25.8" height="7.1" fill="none" stroke="#111" stroke-width="0.6"/>
<text x="462" y="47.6" font-size="4" text-anchor="middle">a</text>
<line x1="456.5" y1="55.9" x2="457.3" y2="55.9" stroke="#333" stroke-width="0.5"/>
<svg x="433.2" y="52.35" width="23.3" height="7.1"><rect width="100%" height="100%" fill="#fff"/><path d="M-7.93,8.1L-0.82,-1M-5.43,8.1L1.68,-1M-2.93,8.1L4.18,-1M-0.43,8.1L6.68,-1M2.07,8.1L9.18,-1M4.57,8.1L11.68,-1M7.07,8.1L14.18,-1M9.57,8.1L16.68,-1M12.07,8.1L19.18,-1M14.57,8.1L21.68,-1M17.07,8.1L24.18,-1M19.57,8.1L26.68,-1M22.07,8.1L29.18,-1" stroke="#000" stroke-width="0.95" fill="none"/></svg>
<rect x="433.2" y="52.35" width="23.3" height="7.1" fill="none" stroke="#111" stroke-width="0.6"/>
<text x="461" y="57.3" font-size="4" text-anchor="middle">d</text>
<svg x="433.2" y="72.75" width="9" height="7.1"><rect width="100%" height="100%" fill="#fff"/><path d="M-6.36,8.1L0.75,-1M-3.86,8.1L3.25,-1M-1.36,8.1L5.75,-1M1.14,8.1L8.25,-1M3.64,8.1L10.75,-1M6.14,8.1L13.25,-1M8.64,8.1L15.75,-1" stroke="#000" stroke-width="0.95" fill="none"/></svg>
<rect x="433.2" y="72.75" width="9" height="7.1" fill="none" stroke="#111" stroke-width="0.6"/>
<svg x="433.2" y="81.95" width="18.3" height="7.1"><rect width="100%" height="100%" fill="#fff"/><path d="M-6.05,8.1L1.06,-1M-3.55,8.1L3.56,-1M-1.05,8.1L6.06,-1M1.45,8.1L8.56,-1M3.95,8.1L11.06,-1M6.45,8.1L13.56,-1M8.95,8.1L16.06,-1M11.45,8.1L18.56,-1M13.95,8.1L21.06,-1M16.45,8.1L23.56,-1M18.95,8.1L26.06,-1" stroke="#000" stroke-width="0.95" fill="none"/></svg>
<rect x="433.2" y="81.95" width="18.3" height="7.1" fill="none" stroke="#111" stroke-width="0.6"/>
<text x="454.5" y="86.9" font-size="4" text-anchor="middle">b</text>
<svg x="433.2" y="91.85" width="24.1" height="7.1"><rect width="100%" height="100%" fill="#fff"/><path d="M-6.29,8.1L0.82,-1M-3.79,8.1L3.32,-1M-1.29,8.1L5.82,-1M1.21,8.1L8.32,-1M3.71,8.1L10.82,-1M6.21,8.1L13.32,-1M8.71,8.1L15.82,-1M11.21,8.1L18.32,-1M13.71,8.1L20.82,-1M16.21,8.1L23.32,-1M18.71,8.1L25.82,-1M21.21,8.1L28.32,-1M23.71,8.1L30.82,-1" stroke="#000" stroke-width="0.95" fill="none"/></svg>
<rect x="433.2" y="91.85" width="24.1" height="7.1" fill="none" stroke="#111" stroke-width="0.6"/>
<text x="461.5" y="96.8" font-size="4" text-anchor="middle">c</text>
<svg x="433.2" y="111.85" width="9" height="7.1"><rect width="100%" height="100%" fill="#fff"/><path d="M-6.91,8.1L0.2,-1M-4.41,8.1L2.7,-1M-1.91,8.1L5.2,-1M0.59,8.1L7.7,-1M3.09,8.1L10.2,-1M5.59,8.1L12.7,-1M8.09,8.1L15.2,-1" stroke="#000" stroke-width="0.95" fill="none"/></svg>
<rect x="433.2" y="111.85" width="9" height="7.1" fill="none" stroke="#111" stroke-width="0.6"/>
<svg x="433.2" y="121.55" width="20.8" height="7.1"><rect width="100%" height="100%" fill="#fff"/><path d="M-6.99,8.1L0.12,-1M-4.49,8.1L2.62,-1M-1.99,8.1L5.12,-1M0.51,8.1L7.62,-1M3.01,8.1L10.12,-1M5.51,8.1L12.62,-1M8.01,8.1L15.12,-1M10.51,8.1L17.62,-1M13.01,8.1L20.12,-1M15.51,8.1L22.62,-1M18.01,8.1L25.12,-1M20.51,8.1L27.62,-1" stroke="#000" stroke-width="0.95" fill="none"/></svg>
<rect x="433.2" y="121.55" width="20.8" height="7.1" fill="none" stroke="#111" stroke-width="0.6"/>
<text x="457.3" y="126.5" font-size="4" text-anchor="middle">a</text>
<svg x="433.2" y="141.05" width="8.2" height="7.1"><rect width="100%" height="100%" fill="#fff"/><path d="M-7.22,8.1L-0.11,-1M-4.72,8.1L2.39,-1M-2.22,8.1L4.89,-1M0.28,8.1L7.39,-1M2.78,8.1L9.89,-1M5.28,8.1L12.39,-1M7.78,8.1L14.89,-1" stroke="#000" stroke-width="0.95" fill="none"/></svg>
<rect x="433.2" y="141.05" width="8.2" height="7.1" fill="none" stroke="#111" stroke-width="0.6"/>
<svg x="433.2" y="150.75" width="7.5" height="7.1"><rect width="100%" height="100%" fill="#fff"/><path d="M-7.3,8.1L-0.19,-1M-4.8,8.1L2.31,-1M-2.3,8.1L4.81,-1M0.2,8.1L7.31,-1M2.7,8.1L9.81,-1M5.2,8.1L12.31,-1M7.7,8.1L14.81,-1" stroke="#000" stroke-width="0.95" fill="none"/></svg>
<rect x="433.2" y="150.75" width="7.5" height="7.1" fill="none" stroke="#111" stroke-width="0.6"/>
<rect x="477.8" y="12.6" width="43.2" height="156.4" fill="#fff" stroke="#333" stroke-width="0.7"/>
<text x="500.4" y="17.9" font-size="4.7" text-anchor="middle">CD1d -/-</text>
<text x="477.8" y="173.7" font-size="3.7" text-anchor="middle">0</text>
<line x1="481.61" y1="167.8" x2="481.61" y2="169" stroke="#333" stroke-width="0.5"/>
<line x1="485.42" y1="166.8" x2="485.42" y2="169" stroke="#333" stroke-width="0.5"/>
<text x="485.42" y="173.7" font-size="3.7" text-anchor="middle">20</text>
<line x1="489.23" y1="167.8" x2="489.23" y2="169" stroke="#333" stroke-width="0.5"/>
<line x1="493.04" y1="166.8" x2="493.04" y2="169" stroke="#333" stroke-width="0.5"/>
<text x="493.04" y="173.7" font-size="3.7" text-anchor="middle">40</text>
<line x1="496.85" y1="167.8" x2="496.85" y2="169" stroke="#333" stroke-width="0.5"/>
<line x1="500.66" y1="166.8" x2="500.66" y2="169" stroke="#333" stroke-width="0.5"/>
<text x="500.66" y="173.7" font-size="3.7" text-anchor="middle">60</text>
<line x1="504.47" y1="167.8" x2="504.47" y2="169" stroke="#333" stroke-width="0.5"/>
<line x1="508.28" y1="166.8" x2="508.28" y2="169" stroke="#333" stroke-width="0.5"/>
<text x="508.28" y="173.7" font-size="3.7" text-anchor="middle">80</text>
<line x1="512.09" y1="167.8" x2="512.09" y2="169" stroke="#333" stroke-width="0.5"/>
<line x1="515.9" y1="166.8" x2="515.9" y2="169" stroke="#333" stroke-width="0.5"/>
<text x="515.9" y="173.7" font-size="3.7" text-anchor="middle">100</text>
<svg x="477.8" y="23.35" width="11.8" height="7.1"><rect width="100%" height="100%" fill="#fff"/><path d="M-7.37,8.1L-0.26,-1M-4.87,8.1L2.24,-1M-2.37,8.1L4.74,-1M0.13,8.1L7.24,-1M2.63,8.1L9.74,-1M5.13,8.1L12.24,-1M7.63,8.1L14.74,-1M10.13,8.1L17.24,-1M12.63,8.1L19.74,-1" stroke="#000" stroke-width="0.95" fill="none"/></svg>
<rect x="477.8" y="23.35" width="11.8" height="7.1" fill="none" stroke="#111" stroke-width="0.6"/>
<svg x="477.8" y="33" width="11.8" height="7.1"><rect width="100%" height="100%" fill="#fff"/><path d="M-7.41,8.1L-0.3,-1M-4.91,8.1L2.2,-1M-2.41,8.1L4.7,-1M0.09,8.1L7.2,-1M2.59,8.1L9.7,-1M5.09,8.1L12.2,-1M7.59,8.1L14.7,-1M10.09,8.1L17.2,-1M12.59,8.1L19.7,-1" stroke="#000" stroke-width="0.95" fill="none"/></svg>
<rect x="477.8" y="33" width="11.8" height="7.1" fill="none" stroke="#111" stroke-width="0.6"/>
<svg x="477.8" y="42.65" width="11.8" height="7.1"><rect width="100%" height="100%" fill="#fff"/><path d="M-7.45,8.1L-0.34,-1M-4.95,8.1L2.16,-1M-2.45,8.1L4.66,-1M0.05,8.1L7.16,-1M2.55,8.1L9.66,-1M5.05,8.1L12.16,-1M7.55,8.1L14.66,-1M10.05,8.1L17.16,-1M12.55,8.1L19.66,-1" stroke="#000" stroke-width="0.95" fill="none"/></svg>
<rect x="477.8" y="42.65" width="11.8" height="7.1" fill="none" stroke="#111" stroke-width="0.6"/>
<svg x="477.8" y="52.35" width="11.8" height="7.1"><rect width="100%" height="100%" fill="#fff"/><path d="M-7.53,8.1L-0.42,-1M-5.03,8.1L2.08,-1M-2.53,8.1L4.58,-1M-0.03,8.1L7.08,-1M2.47,8.1L9.58,-1M4.97,8.1L12.08,-1M7.47,8.1L14.58,-1M9.97,8.1L17.08,-1M12.47,8.1L19.58,-1" stroke="#000" stroke-width="0.95" fill="none"/></svg>
<rect x="477.8" y="52.35" width="11.8" height="7.1" fill="none" stroke="#111" stroke-width="0.6"/>
<svg x="477.8" y="72.75" width="12.6" height="7.1"><rect width="100%" height="100%" fill="#fff"/><path d="M-5.96,8.1L1.15,-1M-3.46,8.1L3.65,-1M-0.96,8.1L6.15,-1M1.54,8.1L8.65,-1M4.04,8.1L11.15,-1M6.54,8.1L13.65,-1M9.04,8.1L16.15,-1M11.54,8.1L18.65,-1" stroke="#000" stroke-width="0.95" fill="none"/></svg>
<rect x="477.8" y="72.75" width="12.6" height="7.1" fill="none" stroke="#111" stroke-width="0.6"/>
<svg x="477.8" y="81.95" width="11.8" height="7.1"><rect width="100%" height="100%" fill="#fff"/><path d="M-5.65,8.1L1.46,-1M-3.15,8.1L3.96,-1M-0.65,8.1L6.46,-1M1.85,8.1L8.96,-1M4.35,8.1L11.46,-1M6.85,8.1L13.96,-1M9.35,8.1L16.46,-1M11.85,8.1L18.96,-1" stroke="#000" stroke-width="0.95" fill="none"/></svg>
<rect x="477.8" y="81.95" width="11.8" height="7.1" fill="none" stroke="#111" stroke-width="0.6"/>
<svg x="477.8" y="91.85" width="11.8" height="7.1"><rect width="100%" height="100%" fill="#fff"/><path d="M-5.89,8.1L1.22,-1M-3.39,8.1L3.72,-1M-0.89,8.1L6.22,-1M1.61,8.1L8.72,-1M4.11,8.1L11.22,-1M6.61,8.1L13.72,-1M9.11,8.1L16.22,-1M11.61,8.1L18.72,-1" stroke="#000" stroke-width="0.95" fill="none"/></svg>
<rect x="477.8" y="91.85" width="11.8" height="7.1" fill="none" stroke="#111" stroke-width="0.6"/>
<svg x="477.8" y="111.85" width="10.8" height="7.1"><rect width="100%" height="100%" fill="#fff"/><path d="M-6.51,8.1L0.6,-1M-4.01,8.1L3.1,-1M-1.51,8.1L5.6,-1M0.99,8.1L8.1,-1M3.49,8.1L10.6,-1M5.99,8.1L13.1,-1M8.49,8.1L15.6,-1M10.99,8.1L18.1,-1" stroke="#000" stroke-width="0.95" fill="none"/></svg>
<rect x="477.8" y="111.85" width="10.8" height="7.1" fill="none" stroke="#111" stroke-width="0.6"/>
<svg x="477.8" y="121.55" width="10.8" height="7.1"><rect width="100%" height="100%" fill="#fff"/><path d="M-6.59,8.1L0.52,-1M-4.09,8.1L3.02,-1M-1.59,8.1L5.52,-1M0.91,8.1L8.02,-1M3.41,8.1L10.52,-1M5.91,8.1L13.02,-1M8.41,8.1L15.52,-1M10.91,8.1L18.02,-1" stroke="#000" stroke-width="0.95" fill="none"/></svg>
<rect x="477.8" y="121.55" width="10.8" height="7.1" fill="none" stroke="#111" stroke-width="0.6"/>
<svg x="477.8" y="141.05" width="10.1" height="7.1"><rect width="100%" height="100%" fill="#fff"/><path d="M-6.82,8.1L0.29,-1M-4.32,8.1L2.79,-1M-1.82,8.1L5.29,-1M0.68,8.1L7.79,-1M3.18,8.1L10.29,-1M5.68,8.1L12.79,-1M8.18,8.1L15.29,-1M10.68,8.1L17.79,-1" stroke="#000" stroke-width="0.95" fill="none"/></svg>
<rect x="477.8" y="141.05" width="10.1" height="7.1" fill="none" stroke="#111" stroke-width="0.6"/>
<svg x="477.8" y="150.75" width="10.1" height="7.1"><rect width="100%" height="100%" fill="#fff"/><path d="M-6.9,8.1L0.21,-1M-4.4,8.1L2.71,-1M-1.9,8.1L5.21,-1M0.6,8.1L7.71,-1M3.1,8.1L10.21,-1M5.6,8.1L12.71,-1M8.1,8.1L15.21,-1M10.6,8.1L17.71,-1" stroke="#000" stroke-width="0.95" fill="none"/></svg>
<rect x="477.8" y="150.75" width="10.1" height="7.1" fill="none" stroke="#111" stroke-width="0.6"/>
<text x="268" y="21.8" font-size="3.65" font-style="italic">IgG1 (mouse)</text>
<line x1="268" y1="22.7" x2="291.4" y2="22.7" stroke="#000" stroke-width="0.45"/>
<text x="268" y="71.3" font-size="3.65" font-style="italic">IgG2a (mouse)</text>
<line x1="268" y1="72.2" x2="293.4" y2="72.2" stroke="#000" stroke-width="0.45"/>
<text x="268" y="110.8" font-size="3.65" font-style="italic">IgG2b (rat)</text>
<line x1="268" y1="111.7" x2="287.3" y2="111.7" stroke="#000" stroke-width="0.45"/>
<text x="268" y="140" font-size="3.65" font-style="italic">IgG2a (rat)</text>
<line x1="268" y1="140.9" x2="287.3" y2="140.9" stroke="#000" stroke-width="0.45"/>
<text x="271.3" y="28.05" font-size="4.05">Isotype</text>
<text x="271.3" y="37.7" font-size="4.05">&#945;CD1d(1A1)</text>
<text x="271.3" y="47.35" font-size="4.05">&#945;CD1d(1F7)</text>
<text x="271.3" y="57.05" font-size="4.05">&#945;CD1d(1E2)</text>
<text x="271.3" y="77.45" font-size="4.05">Isotype</text>
<text x="271.3" y="86.65" font-size="4.05">&#945;CD1d(1H6)</text>
<text x="271.3" y="96.55" font-size="4.05">&#945;CD1d(1G1)</text>
<text x="271.3" y="116.55" font-size="4.05">Isotype</text>
<text x="271.3" y="126.25" font-size="4.05">&#945;CD1d(1B1)</text>
<text x="271.3" y="145.75" font-size="4.05">Isotype</text>
<text x="271.3" y="155.45" font-size="4.05">&#945;Sca1</text>
<text x="265.4" y="185.8" font-size="12.4">D</text>
<rect x="286.3" y="185.6" width="232.4" height="136.6" fill="none" stroke="#444" stroke-width="0.8"/>
<line x1="284.3" y1="322.2" x2="286.3" y2="322.2" stroke="#111" stroke-width="0.6"/>
<line x1="284.3" y1="308.54" x2="286.3" y2="308.54" stroke="#111" stroke-width="0.6"/>
<line x1="284.3" y1="294.88" x2="286.3" y2="294.88" stroke="#111" stroke-width="0.6"/>
<line x1="284.3" y1="281.22" x2="286.3" y2="281.22" stroke="#111" stroke-width="0.6"/>
<line x1="284.3" y1="267.56" x2="286.3" y2="267.56" stroke="#111" stroke-width="0.6"/>
<line x1="284.3" y1="253.9" x2="286.3" y2="253.9" stroke="#111" stroke-width="0.6"/>
<line x1="284.3" y1="240.24" x2="286.3" y2="240.24" stroke="#111" stroke-width="0.6"/>
<line x1="284.3" y1="226.58" x2="286.3" y2="226.58" stroke="#111" stroke-width="0.6"/>
<line x1="284.3" y1="212.92" x2="286.3" y2="212.92" stroke="#111" stroke-width="0.6"/>
<line x1="284.3" y1="199.26" x2="286.3" y2="199.26" stroke="#111" stroke-width="0.6"/>
<line x1="284.3" y1="185.6" x2="286.3" y2="185.6" stroke="#111" stroke-width="0.6"/>
<text x="280.6" y="187.3" font-size="4.2" text-anchor="end">50</text>
<text x="281.2" y="323.6" font-size="4.2" text-anchor="end">0</text>
<text x="280.9" y="253.2" font-size="4.5" text-anchor="middle" transform="rotate(-90 280.9 253.2)">25</text>
<text x="271.6" y="263.3" font-size="4.5" text-anchor="middle" transform="rotate(-90 271.6 263.3)">Colonies</text>
<line x1="318.55" y1="254.72" x2="318.55" y2="245.43" stroke="#333" stroke-width="0.8"/>
<rect x="305.3" y="254.72" width="26.5" height="67.48" fill="#fff" stroke="#000" stroke-width="0.6"/>
<line x1="344.8" y1="257.18" x2="344.8" y2="242.7" stroke="#333" stroke-width="0.8"/>
<rect x="331.8" y="257.18" width="26" height="65.02" fill="#000" stroke="#000" stroke-width="0.6"/>
<line x1="371" y1="201.45" x2="371" y2="190.52" stroke="#333" stroke-width="0.8"/>
<svg x="357.8" y="201.45" width="26.4" height="120.75"><rect width="100%" height="100%" fill="#fff"/><path d="M-100.35,121.75L-0.88,-1M-98,121.75L1.47,-1M-95.65,121.75L3.82,-1M-93.3,121.75L6.17,-1M-90.95,121.75L8.52,-1M-88.6,121.75L10.87,-1M-86.25,121.75L13.22,-1M-83.9,121.75L15.57,-1M-81.55,121.75L17.92,-1M-79.2,121.75L20.27,-1M-76.85,121.75L22.62,-1M-74.5,121.75L24.97,-1M-72.15,121.75L27.32,-1M-69.8,121.75L29.67,-1M-67.45,121.75L32.02,-1M-65.1,121.75L34.37,-1M-62.75,121.75L36.72,-1M-60.4,121.75L39.07,-1M-58.05,121.75L41.42,-1M-55.7,121.75L43.77,-1M-53.35,121.75L46.12,-1M-51,121.75L48.47,-1M-48.65,121.75L50.82,-1M-46.3,121.75L53.17,-1M-43.95,121.75L55.52,-1M-41.6,121.75L57.87,-1M-39.25,121.75L60.22,-1M-36.9,121.75L62.57,-1M-34.55,121.75L64.92,-1M-32.2,121.75L67.27,-1M-29.85,121.75L69.62,-1M-27.5,121.75L71.97,-1M-25.15,121.75L74.32,-1M-22.8,121.75L76.67,-1M-20.45,121.75L79.02,-1M-18.1,121.75L81.37,-1M-15.75,121.75L83.72,-1M-13.4,121.75L86.07,-1M-11.05,121.75L88.42,-1M-8.7,121.75L90.77,-1M-6.35,121.75L93.12,-1M-4,121.75L95.47,-1M-1.65,121.75L97.82,-1M0.7,121.75L100.17,-1M3.05,121.75L102.52,-1M5.4,121.75L104.87,-1M7.75,121.75L107.22,-1M10.1,121.75L109.57,-1M12.45,121.75L111.92,-1M14.8,121.75L114.27,-1M17.15,121.75L116.62,-1M19.5,121.75L118.97,-1M21.85,121.75L121.32,-1M24.2,121.75L123.67,-1M26.55,121.75L126.02,-1" stroke="#000" stroke-width="0.85" fill="none"/></svg>
<rect x="357.8" y="201.45" width="26.4" height="120.75" fill="none" stroke="#000" stroke-width="0.6"/>
<line x1="435.15" y1="317.01" x2="435.15" y2="314.82" stroke="#333" stroke-width="0.8"/>
<rect x="422.1" y="317.01" width="26.1" height="5.19" fill="#fff" stroke="#000" stroke-width="0.6"/>
<line x1="461.4" y1="318.38" x2="461.4" y2="316.74" stroke="#333" stroke-width="0.8"/>
<rect x="448.2" y="318.38" width="26.4" height="3.82" fill="#000" stroke="#000" stroke-width="0.6"/>
<line x1="487.5" y1="311.27" x2="487.5" y2="308.27" stroke="#333" stroke-width="0.8"/>
<svg x="474.6" y="311.27" width="25.8" height="10.93"><rect width="100%" height="100%" fill="#fff"/><path d="M-10.35,11.93L0.12,-1M-8,11.93L2.47,-1M-5.65,11.93L4.82,-1M-3.3,11.93L7.17,-1M-0.95,11.93L9.52,-1M1.4,11.93L11.87,-1M3.75,11.93L14.22,-1M6.1,11.93L16.57,-1M8.45,11.93L18.92,-1M10.8,11.93L21.27,-1M13.15,11.93L23.62,-1M15.5,11.93L25.97,-1M17.85,11.93L28.32,-1M20.2,11.93L30.67,-1M22.55,11.93L33.02,-1M24.9,11.93L35.37,-1" stroke="#000" stroke-width="0.85" fill="none"/></svg>
<rect x="474.6" y="311.27" width="25.8" height="10.93" fill="none" stroke="#000" stroke-width="0.6"/>
<text x="375.8" y="195.2" font-size="4.4">p=0.001</text>
<text x="484.1" y="301.2" font-size="4.4" text-anchor="middle">p=0.001</text>
<text x="342.8" y="329.9" font-size="4.6" text-anchor="middle">CFU-GM</text>
<text x="462.8" y="329.9" font-size="4.6" text-anchor="middle">CFU-GEMM</text>
<rect x="427.8" y="195.8" width="7.8" height="7.4" fill="#fff" stroke="#222" stroke-width="0.6"/>
<text x="441.4" y="201.1" font-size="4.6">Control Medium</text>
<rect x="427.8" y="207.5" width="7.8" height="7.4" fill="#000" stroke="#222" stroke-width="0.6"/>
<text x="441.4" y="212.8" font-size="4.6">Isotype Control Ab</text>
<svg x="427.8" y="219.5" width="7.8" height="7.4"><rect width="100%" height="100%" fill="#fff"/><path d="M-6.26,8.4L1.12,-1M-4.06,8.4L3.32,-1M-1.86,8.4L5.52,-1M0.34,8.4L7.72,-1M2.54,8.4L9.92,-1M4.74,8.4L12.12,-1M6.94,8.4L14.32,-1" stroke="#000" stroke-width="0.95" fill="none"/></svg>
<rect x="427.8" y="219.5" width="7.8" height="7.4" fill="none" stroke="#222" stroke-width="0.6"/>
<text x="441.4" y="224.8" font-size="4.6">Anti CD1d(1H6)</text>
</svg>
</body></html>
